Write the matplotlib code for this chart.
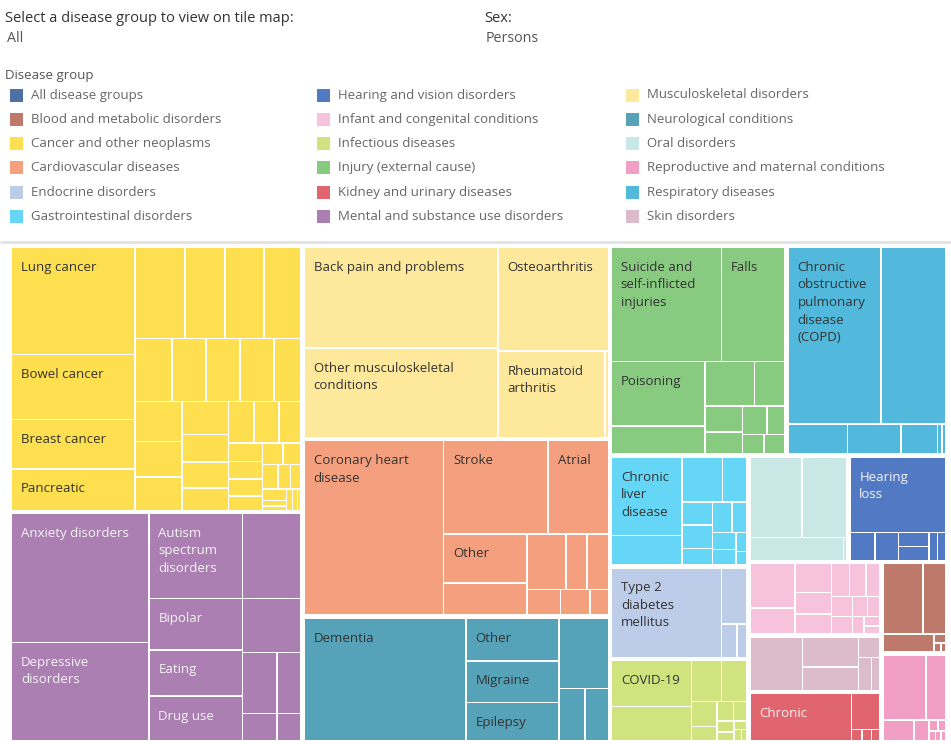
import matplotlib
matplotlib.use("Agg")
import matplotlib.pyplot as plt
from matplotlib.patches import Rectangle

plt.rcParams['font.family'] = ['Open Sans', 'DejaVu Sans']

# legend (column-wise, as in the dashboard)
legend_names = ['All disease groups', 'Blood and metabolic disorders', 'Cancer and other neoplasms',
                'Cardiovascular diseases', 'Endocrine disorders', 'Gastrointestinal disorders',
                'Hearing and vision disorders', 'Infant and congenital conditions', 'Infectious diseases',
                'Injury (external cause)', 'Kidney and urinary diseases', 'Mental and substance use disorders',
                'Musculoskeletal disorders', 'Neurological conditions', 'Oral disorders',
                'Reproductive and maternal conditions', 'Respiratory diseases', 'Skin disorders']
legend_colors = ['#4e71a3', '#bd7a6a', '#fddf50', '#f4a07f', '#bdcde9', '#66d6f6',
                 '#5279c4', '#f7c3dc', '#d1e37f', '#88ca80', '#e1656e', '#ab7fb2',
                 '#fde89c', '#55a2b9', '#c8e7e5', '#f29fc6', '#52b9dc', '#dcbccb']
colour = dict(zip(legend_names, legend_colors))

# burden values per disease, by group (largest first)
cancer_values = [13040, 7870, 6030, 5040, 4500, 3600, 3510, 3330, 2300, 2110, 2110, 2100, 1680,
                 1880, 1650, 1550, 1520, 1240, 1200, 1010, 1070, 1030, 900, 620, 590, 580, 480,
                 440, 380, 380, 290, 260, 270, 130, 100, 130, 100, 80]
cancer_labels = ['Lung cancer', 'Bowel cancer', 'Breast cancer', 'Pancreatic']
mental_values = [17544, 13328, 7905, 4930, 4743, 4278, 4092, 3132, 2074, 1464, 918, 648]
mental_labels = ['Anxiety disorders', 'Depressive\ndisorders', 'Autism\nspectrum\ndisorders', '',
                 'Bipolar', 'Eating', 'Drug use']
musculo_values = [19300, 17177, 11330, 9202, 258]
musculo_labels = ['Back pain and problems', 'Other musculoskeletal\nconditions', 'Osteoarthritis',
                  'Rheumatoid\narthritis']
cardio_values = [24186, 9672, 5580, 4067, 2656, 2145, 1155, 1155, 858, 754, 468]
cardio_labels = ['Coronary heart\ndisease', 'Stroke', 'Atrial', 'Other']
neuro_values = [19829, 3978, 3876, 3519, 3449, 1353, 1196]
neuro_labels = ['Dementia', 'Other', 'Migraine', 'Epilepsy']
injury_values = [12502, 7226, 6041, 2643, 2188, 1340, 976, 826, 711, 508, 426, 406]
injury_labels = ['Suicide and\nself-inflicted\ninjuries', 'Falls', 'Poisoning']
resp_values = [16374, 11390, 1800, 1617, 1098, 132, 112]
resp_labels = ['Chronic\nobstructive\npulmonary\ndisease\n(COPD)']
gastro_values = [5622, 2117, 1836, 1101, 720, 720, 501, 595, 469, 417, 365, 209, 146]
gastro_labels = ['Chronic\nliver\ndisease']
endo_values = [10081, 1445, 520, 347]
endo_labels = ['Type 2\ndiabetes\nmellitus']
infect_values = [3809, 2793, 1258, 1084, 656, 360, 317, 265, 190, 148, 116, 85, 63]
infect_labels = ['COVID-19']
oral_values = [4267, 3681, 2241, 73]
oral_labels = []
hearing_values = [7366, 741, 682, 445, 445, 237, 237]
hearing_labels = ['Hearing\nloss']
infant_values = [2059, 1197, 1078, 809, 732, 602, 566, 460, 431, 375, 312, 260, 208, 156, 125]
infant_labels = []
skin_values = [2942, 1767, 1401, 457, 453, 279]
skin_labels = []
kidney_values = [5009, 1049, 121, 110, 99]
kidney_labels = ['Chronic']
blood_values = [2941, 1659, 984, 109, 66, 44]
blood_labels = []
repro_values = [2927, 1324, 675, 327, 109, 87, 65, 54, 44]
repro_labels = []

groups = [
    ('Cancer and other neoplasms', cancer_values, cancer_labels, [4, 4, 5, 3, 4, 3, 4, 2, 3, 3, 3]),
    ('Mental and substance use disorders', mental_values, mental_labels, [2, 2, 3, 1, 2, 1, 1]),
    ('Musculoskeletal disorders', musculo_values, musculo_labels, [2, 1, 1, 1]),
    ('Cardiovascular diseases', cardio_values, cardio_labels, [1, 2, 2, 3, 1, 1, 1]),
    ('Neurological conditions', neuro_values, neuro_labels, [1, 3, 1, 2]),
    ('Injury (external cause)', injury_values, injury_labels, [2, 2, 2, 2]),
    ('Respiratory diseases', resp_values, resp_labels, [2, 1, 1, 1, 2]),
    ('Gastrointestinal disorders', gastro_values, gastro_labels, [2, 2, 3]),
    ('Endocrine disorders', endo_values, endo_labels, [1, 1, 2]),
    ('Infectious diseases', infect_values, infect_labels, [2, 2]),
    ('Oral disorders', oral_values, oral_labels, [2, 1, 1]),
    ('Hearing and vision disorders', hearing_values, hearing_labels, [1, 1, 1, 2, 2]),
    ('Infant and congenital conditions', infant_values, infant_labels, [2, 3, 3]),
    ('Skin disorders', skin_values, skin_labels, [1, 2, 1, 2]),
    ('Kidney and urinary diseases', kidney_values, kidney_labels, [1, 1, 1, 1, 1]),
    ('Blood and metabolic disorders', blood_values, blood_labels, [2, 1]),
    ('Reproductive and maternal conditions', repro_values, repro_labels, [2, 1, 1]),
]
top_strips = [2, 3, 2, 3, 2, 3, 1, 1]
light_text = ['Mental and substance use disorders', 'Hearing and vision disorders',
              'Kidney and urinary diseases']


def worst(row, side):
    t = sum(row) / side
    return max(max(t / (a / t), (a / t) / t) for a in row)


def squarify(values, x, y, w, h, strips=()):
    # squarified treemap; strips fixes how many items go in each strip
    total = sum(values)
    areas = [v * w * h / total for v in values]
    strips = list(strips)
    rects = []
    i = 0
    while i < len(areas):
        vertical = w >= h
        side = h if vertical else w
        if strips:
            k = min(strips.pop(0), len(areas) - i)
        else:
            k = 1
            while i + k < len(areas) and worst(areas[i:i + k + 1], side) <= worst(areas[i:i + k], side):
                k += 1
        row = areas[i:i + k]
        t = sum(row) / side
        pos = y if vertical else x
        for a in row:
            length = a / t
            rects.append((x, pos, t, length) if vertical else (pos, y, length, t))
            pos += length
        if vertical:
            x += t
            w -= t
        else:
            y += t
            h -= t
        i += k
    return rects


fig = plt.figure(figsize=(9.51, 7.44), dpi=100)
ax = fig.add_axes([0, 0, 1, 1])
ax.set_xlim(0, 951)
ax.set_ylim(744, 0)
ax.axis('off')

# header / filters
ax.text(5, 18, 'Select a disease group to view on tile map:', fontsize=10.5, color='#333333', va='center')
ax.text(7, 38, 'All', fontsize=10.3, color='#555555', va='center')
ax.text(484, 18, 'Sex:', fontsize=10.5, color='#333333', va='center')
ax.text(486, 38, 'Persons', fontsize=10.3, color='#555555', va='center')
ax.text(5, 75, 'Disease group', fontsize=9.5, color='#555555', va='center')

for n, (name, col) in enumerate(zip(legend_names, legend_colors)):
    cx = [10, 317, 626][n // 6]
    cy = 95 + (n % 6) * 24.3
    ax.add_patch(Rectangle((cx, cy - 6.5), 13, 13, facecolor=col, edgecolor='none'))
    ax.text(cx + 21, cy, name, fontsize=9.5, color='#666666', va='center')

ax.plot([0, 951], [241.5, 241.5], color='#e2e2e2', lw=2, solid_capstyle='butt')

# treemap
group_rects = squarify([sum(g[1]) for g in groups], 10, 246, 937, 496, top_strips)
gpad, lpad = 1.5, 0.75
for (name, vals, labels, strips), (gx, gy, gw, gh) in zip(groups, group_rects):
    leaves = squarify(vals, gx + gpad, gy + gpad, gw - 2 * gpad, gh - 2 * gpad, strips)
    tcol = '#f4f4f4' if name in light_text else '#333333'
    for j, (x, y, w, h) in enumerate(leaves):
        ax.add_patch(Rectangle((x + lpad, y + lpad), w - 2 * lpad, h - 2 * lpad,
                               facecolor=colour[name], edgecolor='none'))
        if j < len(labels) and labels[j]:
            ax.text(x + 9.5, y + 13.5, labels[j], fontsize=9.5, color=tcol,
                    va='top', ha='left', linespacing=1.45)

fig.savefig('out.png', dpi=100, facecolor='white')
